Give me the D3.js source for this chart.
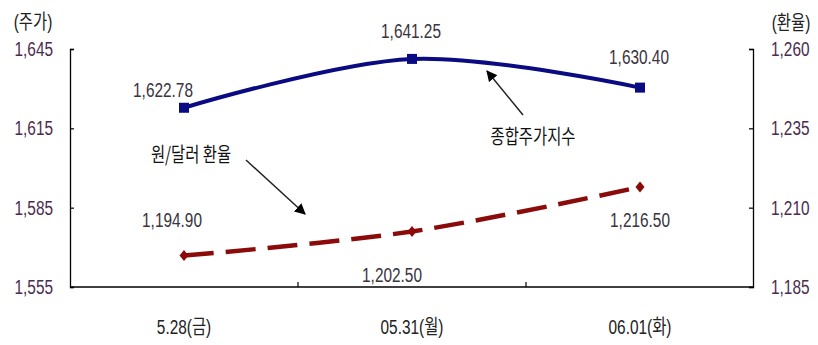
<!DOCTYPE html>
<html>
<head>
<meta charset="utf-8">
<script src="https://cdn.jsdelivr.net/npm/d3@7"></script>
<style>
  html, body { margin: 0; padding: 0; background: #fff; }
  svg { display: block; }
  text { font-family: "Liberation Sans", Arial, "Noto Sans CJK KR", sans-serif; }
  .kr { font-family: "Noto Sans CJK KR", sans-serif; }
</style>
</head>
<body>
<svg id="chart" width="818" height="345"></svg>
<script>
// Categories (trading days)
const dates = ["5.28(금)", "05.31(월)", "06.01(화)"];
// KOSPI composite index (left axis)
const kospi = [1622.78, 1641.25, 1630.40];
// KRW/USD exchange rate (right axis)
const fxRate = [1194.90, 1202.50, 1216.50];
// Axis ticks
const leftTicks = [1555, 1585, 1615, 1645];
const rightTicks = [1185, 1210, 1235, 1260];

const svg = d3.select("#chart");
const plotL = 70, plotR = 754, plotT = 49, plotB = 287;
const SX = 0.77;   // horizontal condensing for the narrow lettering
const FS = 20;

const x = d3.scaleBand().domain(dates).range([plotL, plotR]);
const cx = d => x(d) + x.bandwidth() / 2;
const yL = d3.scaleLinear().domain([1555, 1645]).range([plotB, plotT]);
const yR = d3.scaleLinear().domain([1185, 1260]).range([plotB, plotT]);

const tickColor = "#4b2c50";
const labelColor = "#3a3340";
const place = (px, py) => `translate(${px},${py}) scale(${SX},1)`;

// Axes
const axL = svg.append("g").attr("transform", `translate(${plotL},0)`)
  .call(d3.axisRight(yL).tickValues(leftTicks).tickSize(4).tickFormat(""));
const axR = svg.append("g").attr("transform", `translate(${plotR - 1},0)`)
  .call(d3.axisLeft(yR).tickValues(rightTicks).tickSize(4).tickFormat(""));
const axB = svg.append("g").attr("transform", `translate(0,${plotB})`)
  .call(d3.axisTop(x).tickSize(0).tickFormat(""));
[axL, axR, axB].forEach(g => {
  g.selectAll(".domain").attr("stroke", "#000").attr("stroke-width", 1.3);
  g.selectAll(".tick line").attr("stroke", "#000").attr("stroke-width", 1.2);
});
axB.select(".domain").attr("d", `M${plotL},0H${plotR - 1}`);
// category separators on the x axis
svg.append("g").selectAll("line").data(dates.slice(1)).join("line")
  .attr("x1", d => x(d)).attr("x2", d => x(d))
  .attr("y1", plotB).attr("y2", plotB - 5)
  .attr("stroke", "#000").attr("stroke-width", 1.2);

// Tick labels
const fmt = d3.format(",");
svg.append("g").selectAll("text").data(leftTicks).join("text")
  .attr("transform", d => place(53, yL(d) + 7))
  .attr("text-anchor", "end").attr("font-size", FS).attr("fill", tickColor)
  .text(d => fmt(d));
svg.append("g").selectAll("text").data(rightTicks).join("text")
  .attr("transform", d => place(771, yR(d) + 7))
  .attr("text-anchor", "start").attr("font-size", FS).attr("fill", tickColor)
  .text(d => fmt(d));
svg.append("g").selectAll("text").data(dates).join("text")
  .attr("transform", d => place(cx(d), 334))
  .attr("text-anchor", "middle").attr("font-size", FS).attr("fill", "#222")
  .text(d => d);

// Axis titles
svg.append("text").attr("transform", place(33, 29)).attr("text-anchor", "middle")
  .attr("font-size", FS).attr("fill", "#222").text("(주가)");
svg.append("text").attr("transform", place(791, 30)).attr("text-anchor", "middle")
  .attr("font-size", FS).attr("fill", "#222").text("(환율)");

// KOSPI line
const lineL = d3.line().x((d, i) => cx(dates[i])).y(d => yL(d)).curve(d3.curveCatmullRom.alpha(0.5));
svg.append("path").datum(kospi).attr("d", lineL)
  .attr("fill", "none").attr("stroke", "#0a0a82").attr("stroke-width", 4);
svg.append("g").selectAll("rect").data(kospi).join("rect")
  .attr("x", (d, i) => cx(dates[i]) - 5).attr("y", d => yL(d) - 5)
  .attr("width", 10).attr("height", 10).attr("fill", "#0a0a82");

// Exchange-rate line
const lineR = d3.line().x((d, i) => cx(dates[i])).y(d => yR(d)).curve(d3.curveCatmullRom.alpha(0.5));
svg.append("path").datum(fxRate).attr("d", lineR)
  .attr("fill", "none").attr("stroke", "#8b0a0a").attr("stroke-width", 4.5)
  .attr("stroke-dasharray", "30,12");
svg.append("g").selectAll("path").data(fxRate).join("path")
  .attr("transform", (d, i) => `translate(${cx(dates[i])},${yR(d)})`)
  .attr("d", "M0,-5.5L4.5,0L0,5.5L-4.5,0Z").attr("fill", "#8b0a0a");

// Value labels
const kospiLabelPos = [[163, 97], [411, 38], [639, 64]];
const fxLabelPos = [[172, 227], [392, 282], [640, 227]];
const fmt2 = d3.format(",.2f");
svg.append("g").selectAll("text").data(kospi).join("text")
  .attr("transform", (d, i) => place(kospiLabelPos[i][0], kospiLabelPos[i][1]))
  .attr("text-anchor", "middle").attr("font-size", FS).attr("fill", labelColor)
  .text(d => fmt2(d));
svg.append("g").selectAll("text").data(fxRate).join("text")
  .attr("transform", (d, i) => place(fxLabelPos[i][0], fxLabelPos[i][1]))
  .attr("text-anchor", "middle").attr("font-size", FS).attr("fill", labelColor)
  .text(d => fmt2(d));

// Annotation arrows
const defs = svg.append("defs");
defs.append("marker").attr("id", "arrow").attr("viewBox", "0 0 10 10")
  .attr("refX", 9).attr("refY", 5).attr("markerWidth", 11).attr("markerHeight", 11)
  .attr("orient", "auto").attr("markerUnits", "userSpaceOnUse")
  .append("path").attr("d", "M0,0L10,5L0,10Z").attr("fill", "#000");

svg.append("line").attr("x1", 523).attr("y1", 115).attr("x2", 487).attr("y2", 71)
  .attr("stroke", "#222").attr("stroke-width", 1.5).attr("marker-end", "url(#arrow)");
svg.append("line").attr("x1", 246).attr("y1", 160).attr("x2", 305).attr("y2", 214)
  .attr("stroke", "#222").attr("stroke-width", 1.5).attr("marker-end", "url(#arrow)");

svg.append("text").attr("class", "kr").attr("transform", place(533, 144))
  .attr("text-anchor", "middle").attr("font-size", FS).attr("fill", "#111").text("종합주가지수");
svg.append("text").attr("class", "kr").attr("transform", place(191, 162))
  .attr("text-anchor", "middle").attr("font-size", FS).attr("fill", "#111").text("원/달러 환율");
</script>
</body>
</html>
